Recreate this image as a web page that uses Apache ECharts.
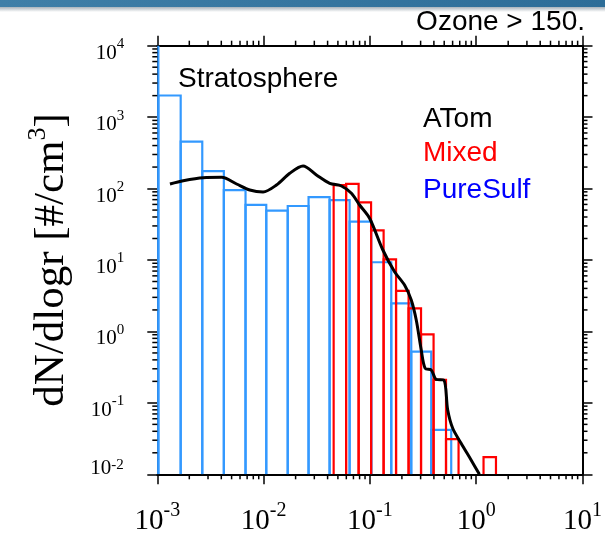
<!DOCTYPE html>
<html><head><meta charset="utf-8">
<script src="https://cdn.jsdelivr.net/npm/echarts@6/dist/echarts.min.js"></script>
<style>html,body{margin:0;padding:0;background:#fff}#c{width:605px;height:538px}</style>
</head><body><div id="c"></div>
<script>
// ---- data (log10 of radius for bin edges, values in #/cm3) ----
const pureEdgesLog = [-3.19, -2.99, -2.78, -2.577, -2.374, -2.17, -1.975, -1.773, -1.577, -1.379, -1.191, -0.987, -0.799, -0.611, -0.423, -0.235];
const pureValues   = [20000, 2010, 453, 176, 95, 59, 49, 57, 76, 69, 34.4, 9.3, 2.47, 0.52, 0.042];
const mixedEdgesLog = [-1.341, -1.224, -1.106, -0.989, -0.871, -0.754, -0.636, -0.519, -0.401, -0.284, -0.166, -0.049, 0.069, 0.186];
const mixedValues   = [112, 116, 64, 26, 10.2, 3.7, 2.1, 0.91, 0.21, 0.031, null, null, 0.0174];
const atomLogR = [-2.881, -2.756, -2.568, -2.395, -2.254, -2.130, -2.005, -1.879, -1.754, -1.629, -1.503, -1.378, -1.268, -1.174, -1.097, -1.003, -0.878, -0.768, -0.674, -0.611, -0.564, -0.517, -0.480, -0.423, -0.377, -0.305, -0.268, -0.221, -0.142, -0.048, 0.030];
const atomLogN = [2.064, 2.110, 2.152, 2.157, 2.064, 1.980, 1.952, 2.050, 2.214, 2.316, 2.190, 2.074, 2.036, 1.934, 1.770, 1.584, 1.140, 0.836, 0.650, 0.440, 0.160, -0.260, -0.517, -0.540, -0.670, -0.680, -1.100, -1.356, -1.566, -1.800, -2.000];
const xDecades = [-3, -2, -1, 0, 1];
const yDecades = [-2, -1, 0, 1, 2, 3, 4];
const minorMult = [2, 3, 4, 5, 6, 7, 8, 9];

const X_MIN = 1e-3, X_MAX = 10, Y_MIN = 1e-2, Y_MAX = 1e4;

function histData(edges, vals) {
  const out = [];
  vals.forEach((v, i) => { if (v != null) out.push([Math.pow(10, edges[i]), Math.pow(10, edges[i + 1]), v]); });
  return out;
}
const pureData = histData(pureEdgesLog, pureValues);
const mixedData = histData(mixedEdgesLog, mixedValues);
const atomData = atomLogR.map((r, i) => [Math.pow(10, r), Math.pow(10, atomLogN[i])]);

const minorX = [], minorY = [];
xDecades.slice(0, -1).forEach(d => minorMult.forEach(m => minorX.push([m * Math.pow(10, d), 1])));
yDecades.slice(0, -1).forEach(d => minorMult.forEach(m => minorY.push([1, m * Math.pow(10, d)])));

function barRender(color) {
  return function (params, api) {
    const x0 = api.value(0), x1 = api.value(1), v = api.value(2);
    const a = api.coord([x0, Y_MIN]), b = api.coord([x1, v]);
    return {
      type: 'polyline',
      shape: { points: [[a[0], a[1]], [a[0], b[1]], [b[0], b[1]], [b[0], a[1]]] },
      style: { fill: null, stroke: color, lineWidth: 2.2 }
    };
  };
}

const SERIF = "'Liberation Serif','Times New Roman',serif";
const SANS = "'Liberation Sans',Arial,Helvetica,sans-serif";

function expFmt(v) {
  return '{b|10}{s|' + Math.round(Math.log10(v)) + '}';
}
function expFmtY(v) {
  const e = Math.round(Math.log10(v));
  if (e === -2) return '{b0|10}{s|' + e + '}{z| }';
  return '{b|10}{s|' + e + '}';
}

const axisCommon = {
  type: 'log', logBase: 10,
  axisLine: { show: true, onZero: false, lineStyle: { color: '#000', width: 2 } },
  axisTick: { show: true, inside: false, length: 10, lineStyle: { color: '#000', width: 1.5 } },
  splitLine: { show: false },
  minorTick: { show: false }
};

const chart = echarts.init(document.getElementById('c'), null, { renderer: 'canvas' });
chart.setOption({
  animation: false,
  backgroundColor: '#fff',
  grid: { left: 157.3, right: 21.7, top: 45.7, bottom: 63.7, containLabel: false },
  xAxis: [
    Object.assign({}, axisCommon, {
      min: X_MIN, max: X_MAX, position: 'bottom',
      axisLabel: {
        margin: 26, formatter: expFmt,
        rich: {
          b: { fontFamily: SERIF, fontSize: 29, color: '#000', lineHeight: 36, verticalAlign: 'bottom' },
          s: { fontFamily: SERIF, fontSize: 20, color: '#000', lineHeight: 20, verticalAlign: 'top' }
        }
      }
    }),
    Object.assign({}, axisCommon, { min: X_MIN, max: X_MAX, position: 'top', axisLabel: { show: false } })
  ],
  yAxis: [
    Object.assign({}, axisCommon, {
      min: Y_MIN, max: Y_MAX, position: 'left',
      name: '{t|dN/dlogr [#/cm}{u|3}{t|]}',
      nameLocation: 'middle', nameRotate: 90, nameGap: 84,
      nameTextStyle: {
        rich: {
          t: { fontFamily: SERIF, fontSize: 43, color: '#000', lineHeight: 48, verticalAlign: 'bottom' },
          u: { fontFamily: SERIF, fontSize: 26, color: '#000', lineHeight: 26, verticalAlign: 'top' }
        }
      },
      axisLabel: {
        margin: 33, formatter: expFmtY, padding: [9, 0, 0, 0],
        rich: {
          b: { fontFamily: SERIF, fontSize: 21, color: '#000', lineHeight: 27, verticalAlign: 'bottom' },
          s: { fontFamily: SERIF, fontSize: 15, color: '#000', lineHeight: 15, verticalAlign: 'top' },
          b0: { fontFamily: SERIF, fontSize: 21, color: '#000', lineHeight: 27, verticalAlign: 'top' },
          z: { fontFamily: SERIF, fontSize: 2, color: 'rgba(0,0,0,0)', lineHeight: 42, verticalAlign: 'top' }
        }
      }
    }),
    Object.assign({}, axisCommon, { min: Y_MIN, max: Y_MAX, position: 'right', axisLabel: { show: false } })
  ],
  graphic: [
    { type: 'rect', left: 0, top: 0, z: 100, shape: { width: 605, height: 7 },
      style: { fill: new echarts.graphic.LinearGradient(0, 0, 1, 0, [{ offset: 0, color: '#3f7fa8' }, { offset: 1, color: '#2d6d98' }]) } },
    { type: 'rect', left: 0, top: 7, z: 100, shape: { width: 605, height: 5 },
      style: { fill: new echarts.graphic.LinearGradient(0, 0, 0, 1, [{ offset: 0, color: '#a9b3bb' }, { offset: 1, color: '#ffffff' }]) } },
    { type: 'text', x: 585, y: 22, z: 100, style: { text: 'Ozone > 150.', font: '28px ' + SANS, fill: '#000', textAlign: 'right', textVerticalAlign: 'middle' } },
    { type: 'text', x: 178, y: 79, z: 100, style: { text: 'Stratosphere', font: '28px ' + SANS, fill: '#000', textAlign: 'left', textVerticalAlign: 'middle' } },
    { type: 'text', x: 423, y: 119, z: 100, style: { text: 'ATom', font: '28px ' + SANS, fill: '#000', textAlign: 'left', textVerticalAlign: 'middle' } },
    { type: 'text', x: 423, y: 153, z: 100, style: { text: 'Mixed', font: '28px ' + SANS, fill: '#ff0000', textAlign: 'left', textVerticalAlign: 'middle' } },
    { type: 'text', x: 423, y: 190, z: 100, style: { text: 'PureSulf', font: '28px ' + SANS, fill: '#0000ff', textAlign: 'left', textVerticalAlign: 'middle' } }
  ],
  series: [
    { name: 'PureSulf', type: 'custom', clip: true, silent: true, renderItem: barRender('#3399ff'), data: pureData, encode: { x: [0, 1], y: 2 }, z: 2 },
    { name: 'Mixed', type: 'custom', clip: true, silent: true, renderItem: barRender('#ff0000'), data: mixedData, encode: { x: [0, 1], y: 2 }, z: 3 },
    { name: 'ATom', type: 'line', data: atomData, smooth: 0.3, showSymbol: false, lineStyle: { color: '#000', width: 3 }, z: 4 },
    { type: 'custom', clip: false, silent: true, data: minorX, encode: { x: 0, y: 1 }, z: 5,
      renderItem: function (p, api) {
        const v = api.value(0);
        const b = api.coord([v, Y_MIN]), t = api.coord([v, Y_MAX]);
        return { type: 'group', children: [
          { type: 'line', shape: { x1: b[0], y1: b[1], x2: b[0], y2: b[1] + 5 }, style: { stroke: '#000', lineWidth: 1.5 } },
          { type: 'line', shape: { x1: t[0], y1: t[1], x2: t[0], y2: t[1] - 5 }, style: { stroke: '#000', lineWidth: 1.5 } }
        ] };
      } },
    { type: 'custom', clip: false, silent: true, data: minorY, encode: { x: 0, y: 1 }, z: 5,
      renderItem: function (p, api) {
        const v = api.value(1);
        const l = api.coord([X_MIN, v]), r = api.coord([X_MAX, v]);
        return { type: 'group', children: [
          { type: 'line', shape: { x1: l[0], y1: l[1], x2: l[0] - 5, y2: l[1] }, style: { stroke: '#000', lineWidth: 1.5 } },
          { type: 'line', shape: { x1: r[0], y1: r[1], x2: r[0] + 5, y2: r[1] }, style: { stroke: '#000', lineWidth: 1.5 } }
        ] };
      } }
  ]
});
</script>
</body></html>
